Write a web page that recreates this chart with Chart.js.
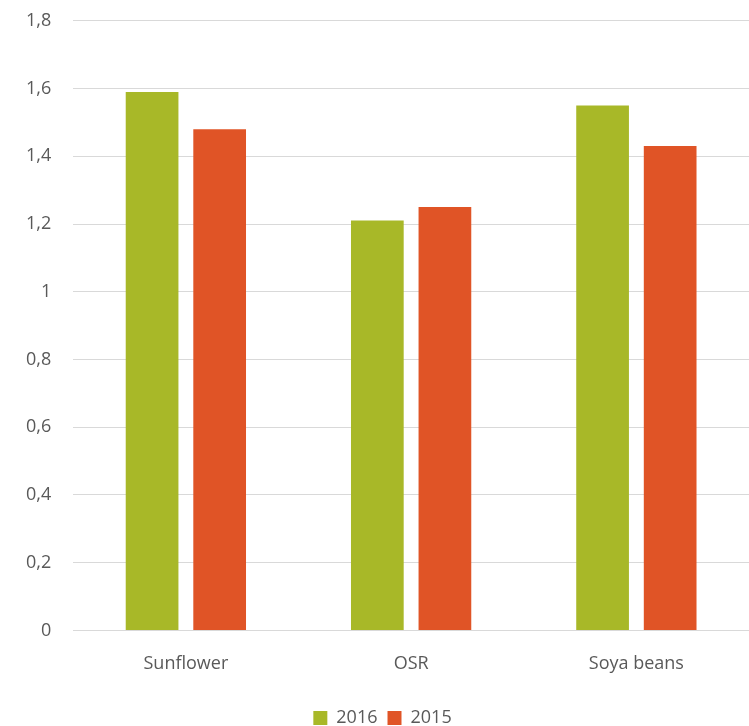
<!DOCTYPE html>
<html>
<head>
<meta charset="utf-8">
<script src="https://cdn.jsdelivr.net/npm/chart.js@4.4.1/dist/chart.umd.min.js"></script>
<style>
  html, body { margin: 0; padding: 0; background: #fff; }
  #wrap { width: 749px; height: 726px; }
</style>
</head>
<body>
<div id="wrap"><canvas id="chart"></canvas></div>
<script>
var categories = ['Sunflower', 'OSR', 'Soya beans'];
var values2016 = [1.59, 1.21, 1.55];
var values2015 = [1.48, 1.25, 1.43];
var yTicks = [0, 0.2, 0.4, 0.6, 0.8, 1, 1.2, 1.4, 1.6, 1.8];

document.addEventListener('DOMContentLoaded', function() {
    var ctx = document.getElementById('chart');
    Chart.defaults.font.family = '"Open Sans", sans-serif';
    Chart.defaults.color = '#595959';

    new Chart(ctx, {
        type: 'bar',
        data: {
            labels: categories,
            datasets: [{
                label: '2016',
                data: values2016,
                backgroundColor: '#A8B828',
                categoryPercentage: 0.6,
                barPercentage: 0.78
            }, {
                label: '2015',
                data: values2015,
                backgroundColor: '#E05426',
                categoryPercentage: 0.6,
                barPercentage: 0.78
            }]
        },
        options: {
            responsive: true,
            maintainAspectRatio: false,
            animation: false,
            layout: { padding: { top: 2, right: 0, left: 16, bottom: -11 } },
            plugins: {
                tooltip: { enabled: false },
                legend: {
                    position: 'bottom',
                    labels: {
                        boxWidth: 14,
                        boxHeight: 14,
                        padding: 10,
                        font: { size: 18 }
                    }
                }
            },
            scales: {
                x: {
                    grid: { display: false },
                    border: { color: '#d9d9d9', width: 1 },
                    ticks: { font: { size: 18 }, padding: 15 },
                    afterFit: function(scale) { scale.height += 9; }
                },
                y: {
                    min: 0,
                    max: 1.8,
                    afterBuildTicks: function(axis) {
                        axis.ticks = yTicks.map(function(v) { return { value: v }; });
                    },
                    grid: { color: '#d9d9d9', lineWidth: 1, drawTicks: true, tickLength: 12, tickColor: 'rgba(0,0,0,0)' },
                    border: { display: false },
                    ticks: {
                        font: { size: 18 },
                        padding: 10,
                        callback: function(value) {
                            return String(Number(value.toFixed(1))).replace('.', ',');
                        }
                    }
                }
            }
        }
    });
});
</script>
</body>
</html>
